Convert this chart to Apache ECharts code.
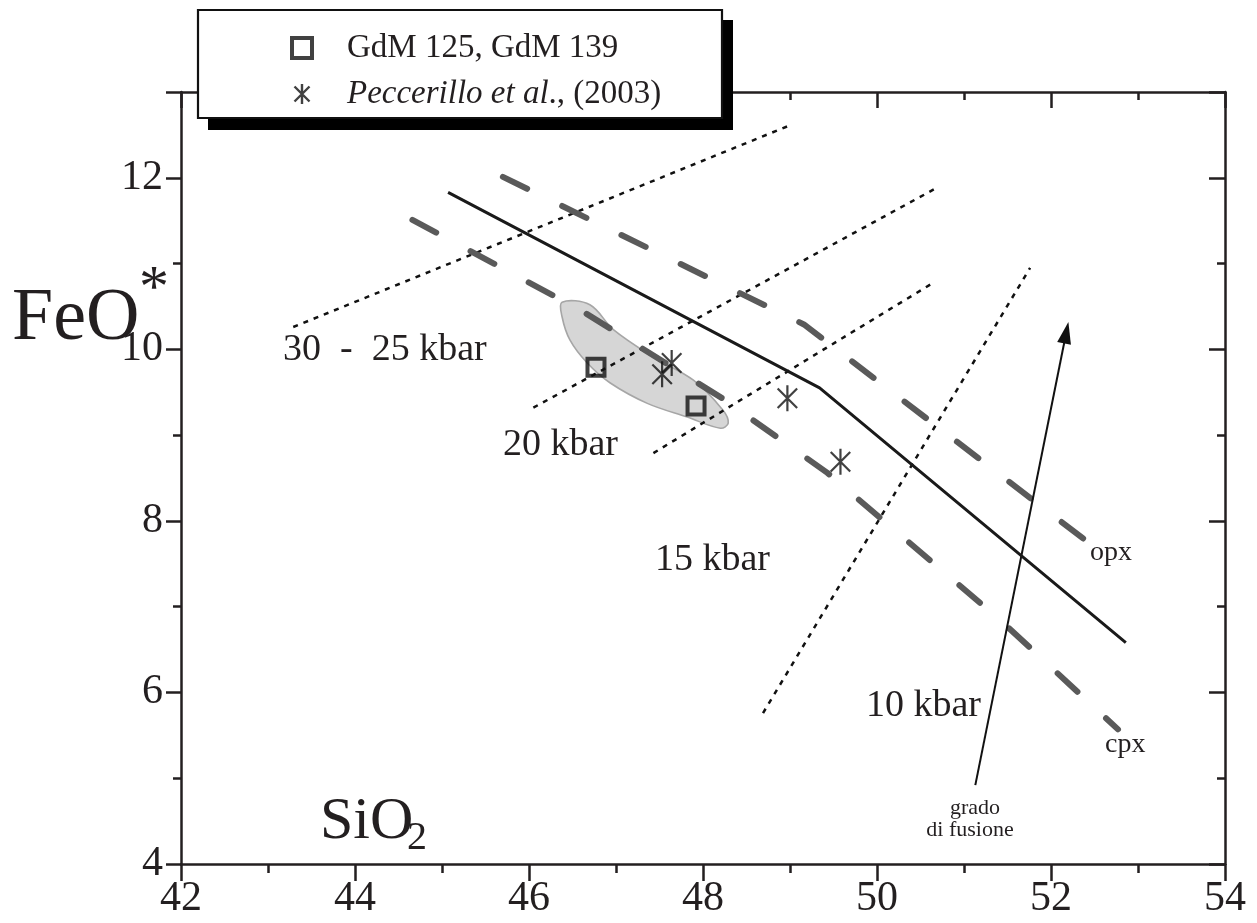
<!DOCTYPE html>
<html><head><meta charset="utf-8">
<script src="https://cdn.jsdelivr.net/npm/echarts@6/dist/echarts.min.js"></script>
<style>html,body{margin:0;padding:0;background:#fff}#c{width:1257px;height:923px}</style>
</head><body><div id="c"></div>
<script>
// ---- data ----
const xTickLabels = [42, 44, 46, 48, 50, 52, 54];
const yTickLabels = [4, 6, 8, 10, 12];
const yMax = 13;

const seriesNames = ['GdM 125, GdM 139', 'Peccerillo et al., (2003)'];
const gdmX = [46.77, 47.92];
const gdmY = [9.79, 9.34];
const pecX = [47.64, 47.53, 48.97, 49.58];
const pecY = [9.84, 9.71, 9.43, 8.69];

const solidX = [45.07, 49.34, 52.86];
const solidY = [11.83, 9.55, 6.58];
const opxX = [45.70, 49.16, 52.44];
const opxY = [12.01, 10.29, 7.74];
const cpxX = [44.66, 46.62, 48.22, 49.43, 51.41, 52.77];
const cpxY = [11.51, 10.44, 9.43, 8.56, 6.85, 5.57];

const iso3025X = [43.29, 49.02];
const iso3025Y = [10.26, 12.62];
const iso20X = [46.05, 50.70];
const iso20Y = [9.32, 11.89];
const iso15X = [47.43, 50.67];
const iso15Y = [8.79, 10.79];
const iso10X = [48.69, 51.76];
const iso10Y = [5.76, 10.95];

const arrowX = [51.13, 52.20];
const arrowY = [4.92, 10.32];

const blobX = [46.38, 46.70, 46.97, 47.43, 47.89, 48.23, 48.29, 48.20, 47.82, 47.36, 46.93, 46.67, 46.47, 46.38];
const blobY = [10.55, 10.52, 10.23, 9.91, 9.64, 9.29, 9.14, 9.08, 9.21, 9.37, 9.61, 9.84, 10.11, 10.38];

// ---- helpers ----
const zip = (xs, ys) => xs.map((x, i) => [x, ys[i]]);
const FONT = '"Liberation Serif", "Times New Roman", serif';
const INK = '#231f20';
const asteriskPath = 'path://M0,-12L0,12M-9,-9L9,9M-9,9L9,-9';

const chart = echarts.init(document.getElementById('c'), null, {renderer: 'canvas'});

const axisLine = {show: true, lineStyle: {color: INK, width: 2.5}};
const tickStyle = {color: INK, width: 2.5};

function xAx(pos) {
  const bottom = pos === 'bottom';
  return {
    type: 'value', position: pos,
    min: xTickLabels[0], max: xTickLabels[xTickLabels.length - 1], interval: 2,
    axisLine: axisLine,
    axisTick: {show: true, inside: !bottom, length: bottom ? 17 : 16, lineStyle: tickStyle},
    minorTick: {show: true, splitNumber: 2, length: bottom ? 9 : 8, lineStyle: tickStyle},
    axisLabel: {show: bottom, fontFamily: FONT, fontSize: 42, color: INK, margin: 14},
    splitLine: {show: false}, minorSplitLine: {show: false}
  };
}
function yAx(pos) {
  const left = pos === 'left';
  return {
    type: 'value', position: pos,
    min: yTickLabels[0], max: yMax, interval: 2,
    axisLine: axisLine,
    axisTick: {show: true, inside: !left, length: left ? 15 : 16, lineStyle: tickStyle},
    minorTick: {show: true, splitNumber: 2, length: 8, lineStyle: tickStyle},
    axisLabel: {show: left, fontFamily: FONT, fontSize: 42, color: INK, margin: 18,
      formatter: v => yTickLabels.indexOf(v) >= 0 ? String(v) : ''},
    splitLine: {show: false}, minorSplitLine: {show: false}
  };
}

function dotted(name, xs, ys) {
  return {type: 'line', name: name, data: zip(xs, ys), showSymbol: false, symbol: 'none',
    lineStyle: {color: '#111', width: 2.5, type: [5, 6]}, z: 3, silent: true};
}

const option = {
  animation: false,
  backgroundColor: '#fff',
  grid: {left: 181, right: 32, top: 92, bottom: 59, containLabel: false},
  xAxis: [xAx('bottom'), xAx('top')],
  yAxis: [yAx('left'), yAx('right')],
  legend: {
    orient: 'vertical', left: 285, top: 26, itemWidth: 20, itemHeight: 20, itemGap: 12,
    z: 10, selectedMode: false,
    data: [
      {name: seriesNames[0], icon: 'path://M0,0L20,0L20,20L0,20Z', itemStyle: {color: 'rgba(0,0,0,0)', borderColor: '#111', borderWidth: 4}},
      {name: seriesNames[1], icon: asteriskPath, itemStyle: {color: 'rgba(0,0,0,0)', borderColor: '#111', borderWidth: 2.4}}
    ],
    formatter: function (name) {
      if (name === seriesNames[1]) return '{i|Peccerillo et al}{n|., (2003)}';
      return '{n|' + name + '}';
    },
    textStyle: {
      fontFamily: FONT, fontSize: 33, color: INK, padding: [0, 0, 0, 30], lineHeight: 34,
      rich: {
        i: {fontFamily: FONT, fontSize: 33, fontStyle: 'italic', color: INK},
        n: {fontFamily: FONT, fontSize: 33, color: INK}
      }
    }
  },
  graphic: [
    {type: 'rect', z: 5, shape: {x: 208, y: 20, width: 525, height: 110}, style: {fill: '#000'}},
    {type: 'rect', z: 6, shape: {x: 198, y: 10, width: 524, height: 108}, style: {fill: '#fff', stroke: '#111', lineWidth: 2.2}},
    {type: 'text', z: 6, x: 12, y: 320, style: {text: 'FeO', fontFamily: FONT, fontSize: 74, fill: INK, align: 'left', verticalAlign: 'middle'}},
    {type: 'text', z: 6, x: 139, y: 290, style: {text: '*', fontFamily: FONT, fontSize: 60, fill: INK, align: 'left', verticalAlign: 'middle'}},
    {type: 'text', z: 6, x: 320, y: 822, style: {text: 'SiO', fontFamily: FONT, fontSize: 60, fill: INK, align: 'left', verticalAlign: 'middle'}},
    {type: 'text', z: 6, x: 407, y: 838, style: {text: '2', fontFamily: FONT, fontSize: 40, fill: INK, align: 'left', verticalAlign: 'middle'}},
    {type: 'text', z: 6, x: 283, y: 350, style: {text: '30  -  25 kbar', fontFamily: FONT, fontSize: 38, fill: INK, align: 'left', verticalAlign: 'middle'}},
    {type: 'text', z: 6, x: 503, y: 445, style: {text: '20 kbar', fontFamily: FONT, fontSize: 38, fill: INK, align: 'left', verticalAlign: 'middle'}},
    {type: 'text', z: 6, x: 655, y: 560, style: {text: '15 kbar', fontFamily: FONT, fontSize: 38, fill: INK, align: 'left', verticalAlign: 'middle'}},
    {type: 'text', z: 6, x: 866, y: 706, style: {text: '10 kbar', fontFamily: FONT, fontSize: 38, fill: INK, align: 'left', verticalAlign: 'middle'}},
    {type: 'text', z: 6, x: 1090, y: 553, style: {text: 'opx', fontFamily: FONT, fontSize: 28, fill: INK, align: 'left', verticalAlign: 'middle'}},
    {type: 'text', z: 6, x: 1105, y: 745, style: {text: 'cpx', fontFamily: FONT, fontSize: 28, fill: INK, align: 'left', verticalAlign: 'middle'}},
    {type: 'text', z: 6, x: 975, y: 808, style: {text: 'grado', fontFamily: FONT, fontSize: 22, fill: INK, align: 'center', verticalAlign: 'middle'}},
    {type: 'text', z: 6, x: 970, y: 830, style: {text: 'di fusione', fontFamily: FONT, fontSize: 22, fill: INK, align: 'center', verticalAlign: 'middle'}}
  ],
  series: [
    {
      type: 'custom', name: 'campo', silent: true, z: 1,
      data: [[blobX[0], blobY[0]]],
      renderItem: function (params, api) {
        const pts = blobX.map((x, i) => api.coord([x, blobY[i]]));
        return {type: 'polygon', shape: {points: pts, smooth: 0.35},
          style: {fill: '#d6d6d6', stroke: '#a6a6a6', lineWidth: 1.6}};
      }
    },
    dotted('30-25 kbar', iso3025X, iso3025Y),
    dotted('20 kbar', iso20X, iso20Y),
    dotted('15 kbar', iso15X, iso15Y),
    dotted('10 kbar', iso10X, iso10Y),
    {type: 'line', name: 'opx', data: zip(opxX, opxY), showSymbol: false, symbol: 'none', silent: true, z: 3,
      lineStyle: {color: '#5a5a5a', width: 6, type: [27, 39], cap: 'round'}},
    {type: 'line', name: 'cpx', data: zip(cpxX, cpxY), showSymbol: false, symbol: 'none', silent: true, z: 3,
      lineStyle: {color: '#5a5a5a', width: 6, type: [27, 39], cap: 'round'}},
    {type: 'line', name: 'cotettica', data: zip(solidX, solidY), showSymbol: false, symbol: 'none', silent: true, z: 4,
      lineStyle: {color: '#1a1a1a', width: 3}},
    {
      type: 'custom', name: 'grado di fusione', silent: true, z: 4,
      data: [[arrowX[0], arrowY[0], arrowX[1], arrowY[1]]],
      renderItem: function (params, api) {
        const p0 = api.coord([api.value(0), api.value(1)]);
        const p1 = api.coord([api.value(2), api.value(3)]);
        const dx = p1[0] - p0[0], dy = p1[1] - p0[1];
        const L = Math.sqrt(dx * dx + dy * dy);
        const ux = dx / L, uy = dy / L;
        const hl = 22, hw = 7;
        const bx = p1[0] - ux * hl, by = p1[1] - uy * hl;
        return {type: 'group', children: [
          {type: 'line', shape: {x1: p0[0], y1: p0[1], x2: bx + ux * 2, y2: by + uy * 2}, style: {stroke: '#111', lineWidth: 2}},
          {type: 'polygon', shape: {points: [[p1[0], p1[1]], [bx - uy * hw, by + ux * hw], [bx + uy * hw, by - ux * hw]]}, style: {fill: '#111'}}
        ]};
      }
    },
    {type: 'scatter', name: seriesNames[0], data: zip(gdmX, gdmY), symbol: 'rect', symbolSize: 17, z: 6,
      itemStyle: {color: 'rgba(0,0,0,0)', borderColor: '#111', borderWidth: 4}},
    {type: 'scatter', name: seriesNames[1], data: zip(pecX, pecY), symbol: asteriskPath, symbolSize: 26, symbolKeepAspect: true, z: 6,
      itemStyle: {color: 'rgba(0,0,0,0)', borderColor: '#111', borderWidth: 2.2}}
  ]
};
chart.setOption(option);
</script></body></html>
